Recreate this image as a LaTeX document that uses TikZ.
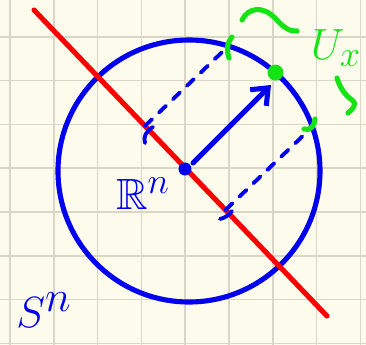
\documentclass[tikz,border=0pt]{standalone}
\usepackage{amssymb}
\usetikzlibrary{calc,arrows.meta}
\definecolor{paper}{RGB}{253,251,236}
\definecolor{gridgray}{RGB}{218,214,198}
\definecolor{penblue}{RGB}{0,0,238}
\definecolor{penred}{RGB}{250,0,0}
\definecolor{pengreen}{RGB}{20,228,20}
\begin{document}
\begin{tikzpicture}[x=0.02cm,y=-0.02cm,line cap=round,line join=round,
    pen/.style={line width=2.9pt},
    thin pen/.style={line width=2.2pt},
    dash pen/.style={thin pen,penblue,dash pattern=on 5.5pt off 5.5pt}]
  \fill[paper] (0,0) rectangle (366,345);
  \useasboundingbox (0,0) rectangle (366,345);
  % grid paper
  \foreach \gx in {10,53.8,...,361} \draw[gridgray,line width=0.8pt] (\gx,0) -- (\gx,345);
  \foreach \gy in {36.8,80.6,...,345} \draw[gridgray,line width=0.8pt] (0,\gy) -- (366,\gy);
  % points
  \coordinate (o) at (189,171);
  \coordinate (a) at (34,10);
  \coordinate (b) at (327,316);
  \coordinate (p) at ($(o)+(48.7:131 and -131)$);
  \coordinate (q1) at ($(o)+(72.5:131 and -131)$);
  \coordinate (q2) at ($(o)+(19.7:131 and -131)$);
  \coordinate (f1) at ($(a)!(q1)!(b)$);
  \coordinate (f2) at ($(a)!(q2)!(b)$);
  \coordinate (s) at (193,163);
  \coordinate (t) at (271,85);
  % sphere and plane
  \draw[pen,penblue] (o) circle (131);
  \draw[pen,penred] (a) -- (b);
  \fill[penblue] (185,169) circle (6.5);
  % projections
  \draw[dash pen] (f1) -- (q1);
  \draw[dash pen] (f2) -- (q2);
  \draw[thin pen,penblue] (153,127) .. controls (146,131) and (143,137) .. (145,143);
  \draw[thin pen,penblue] (220,219) .. controls (225,218) and (229,215) .. (232,211);
  \draw[pen,penblue,-{Straight Barb[length=8pt,width=13pt]}] (s) -- (t);
  \fill[pengreen] (p) circle (8);
  % neighbourhood
  \draw[pen,pengreen] (232,37) .. controls (226,44) and (227,52) .. (229,58);
  \draw[pen,pengreen] (304,129) .. controls (310,131) and (314,127) .. (315,119);
  \draw[pen,pengreen] (242,20) .. controls (248,8) and (262,5) .. (275,18) .. controls (283,27) and (290,32) .. (297,31);
  \draw[pen,pengreen] (337,78) .. controls (340,88) and (345,95) .. (352,100) .. controls (358,104) and (352,110) .. (348,113);
  % labels
  \node[penblue,font=\Huge] (rn) at (143,194) {$\mathbb{R}^n$};
  \node[penblue,font=\fontsize{44}{44}\selectfont] (sn) at (44,310) {$S^n$};
  \node[pengreen,font=\Huge] (ux) at (336,48) {$U_x$};
\end{tikzpicture}
\end{document}
